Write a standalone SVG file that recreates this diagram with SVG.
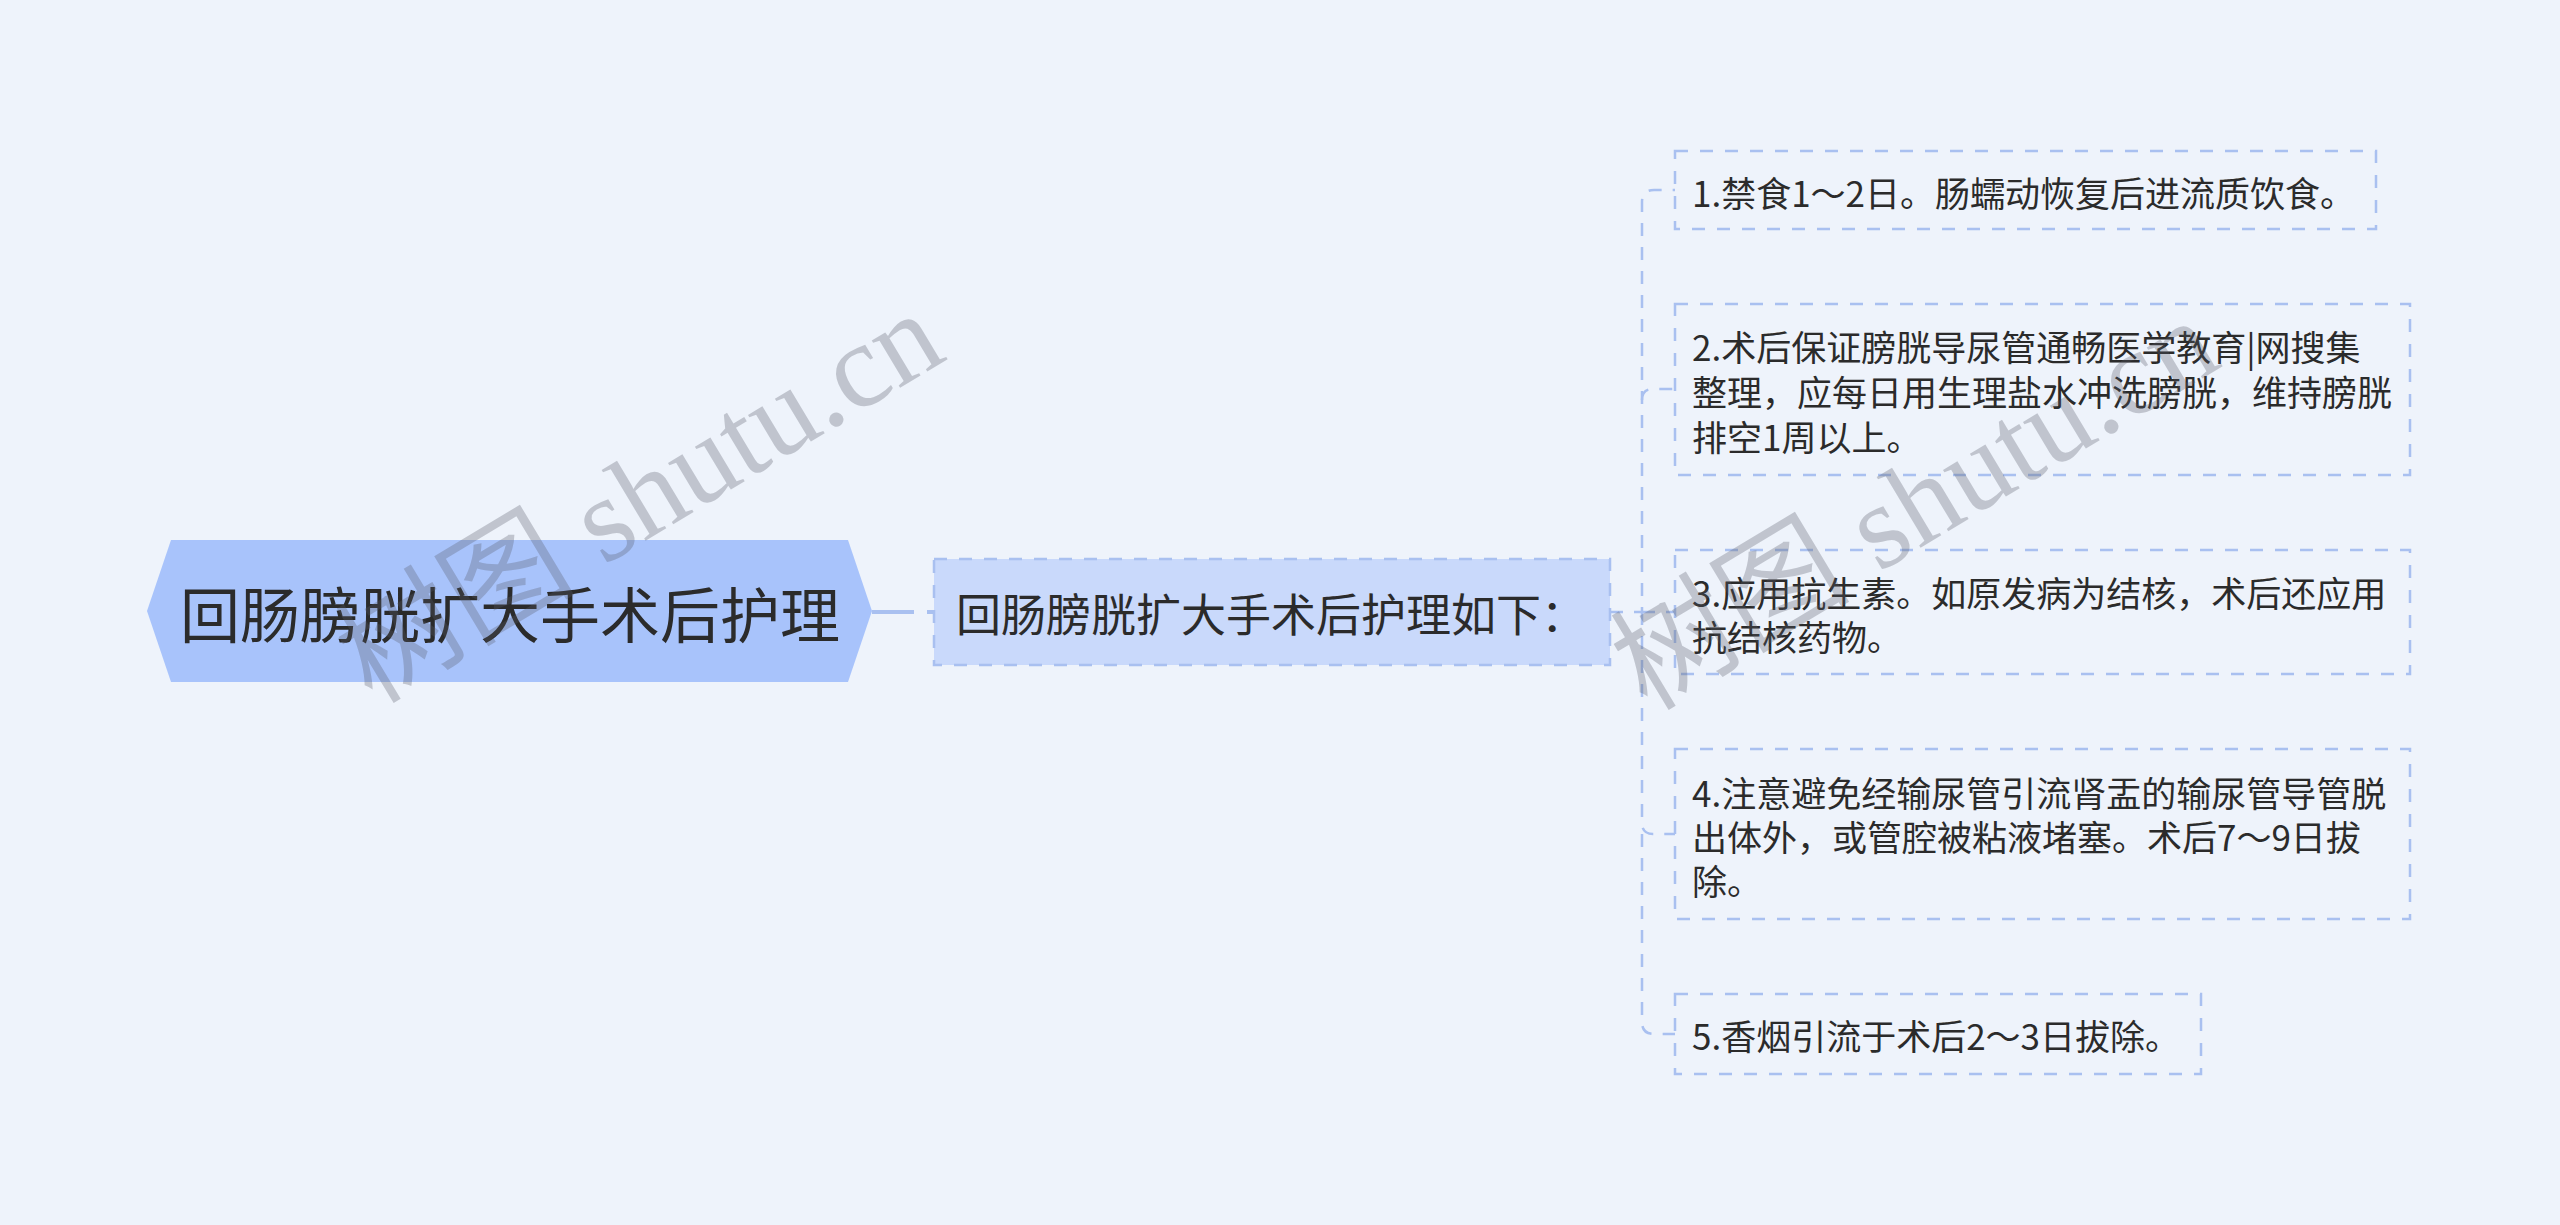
<svg xmlns="http://www.w3.org/2000/svg" width="2560" height="1225" viewBox="0 0 2560 1225">
<style>
.bg{fill:#eef3fb}
.t{font-family:"Noto Sans CJK SC","Noto Sans",sans-serif;fill:#2b2b2b;dominant-baseline:central}
.box{fill:none;stroke:#a9c0f0;stroke-width:2.5;stroke-dasharray:13 12}
.conn{fill:none;stroke:#a9c0f0;stroke-width:2.5;stroke-dasharray:13 11}
.wm{font-family:"Liberation Serif","Noto Sans CJK SC",serif;font-size:120px;fill:#555a66;fill-opacity:0.3}
</style>
<rect class="bg" x="0" y="0" width="2560" height="1225"/>
<g id="connectors">
<line x1="872" y1="612" x2="935" y2="612" stroke="#a9c0f0" stroke-width="4" stroke-dasharray="42 13"/>
<path class="conn" d="M1610 612 H1642 V202 Q1642 190 1654 190 H1675"/>
<path class="conn" d="M1642 400 Q1642 389 1653 389 H1675"/>
<path class="conn" d="M1642 612 H1675"/>
<path class="conn" d="M1642 612 V823 Q1642 834 1653 834 H1675"/>
<path class="conn" d="M1642 834 V1022 Q1642 1034 1654 1034 H1675"/>
</g>
<g id="root">
<polygon points="147,611 171,540 848,540 872,611 848,682 171,682" fill="#a8c3fb"/>
<text class="t" x="180" y="611" font-size="60">回肠膀胱扩大手术后护理</text>
</g>
<g id="child">
<rect x="934" y="559" width="676" height="106" fill="#c9d9fb" stroke="#a9c0f0" stroke-width="2.5" stroke-dasharray="13 12"/>
<text class="t" x="956" y="612" font-size="45">回肠膀胱扩大手术后护理如下：</text>
</g>
<g id="n1">
<rect class="box" x="1675" y="151" width="701" height="78"/>
<text class="t" x="1692" y="191" font-size="35">1.禁食1～2日。肠蠕动恢复后进流质饮食。</text>
</g>
<g id="n2">
<rect class="box" x="1675" y="304" width="735" height="171"/>
<text class="t" font-size="35"><tspan x="1692" y="345">2.术后保证膀胱导尿管通畅医学教育|网搜集</tspan><tspan x="1692" y="390">整理，应每日用生理盐水冲洗膀胱，维持膀胱</tspan><tspan x="1692" y="435">排空1周以上。</tspan></text>
</g>
<g id="n3">
<rect class="box" x="1675" y="550" width="735" height="124"/>
<text class="t" font-size="35"><tspan x="1692" y="591">3.应用抗生素。如原发病为结核，术后还应用</tspan><tspan x="1692" y="635">抗结核药物。</tspan></text>
</g>
<g id="n4">
<rect class="box" x="1675" y="749" width="735" height="170"/>
<text class="t" font-size="35"><tspan x="1692" y="791">4.注意避免经输尿管引流肾盂的输尿管导管脱</tspan><tspan x="1692" y="835">出体外，或管腔被粘液堵塞。术后7～9日拔</tspan><tspan x="1692" y="879">除。</tspan></text>
</g>
<g id="n5">
<rect class="box" x="1675" y="994" width="526" height="80"/>
<text class="t" x="1692" y="1034" font-size="35">5.香烟引流于术后2～3日拔除。</text>
</g>
<g id="watermarks">
<text class="wm" x="0" y="0" transform="translate(372,705) rotate(-31)">树图 shutu.cn</text>
<text class="wm" x="0" y="0" transform="translate(1647,712) rotate(-31)">树图 shutu.cn</text>
</g>
</svg>
